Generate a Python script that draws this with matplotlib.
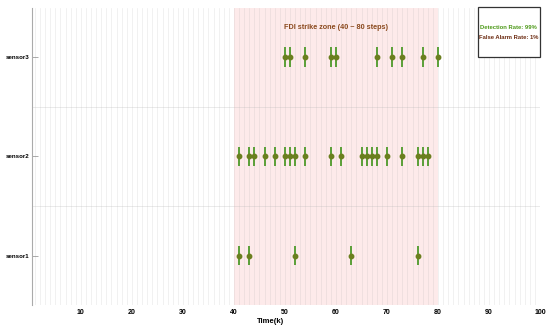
import numpy as np
import matplotlib.pyplot as plt

sensor_names = ['sensor1', 'sensor2', 'sensor3']
sensor1_hits = [41, 43, 52, 63, 76]
sensor2_hits = [41, 43, 44, 46, 48, 50, 51, 52, 54, 59, 61, 65, 66, 67, 68, 70, 73, 76, 77, 78]
sensor3_hits = [50, 51, 54, 59, 60, 68, 71, 73, 77, 80]
zone_start, zone_end = 40, 80
x_ticks = [10, 20, 30, 40, 50, 60, 70, 80, 90, 100]

plt.rcParams['font.family'] = ['Liberation Sans', 'DejaVu Sans']

fig = plt.figure(figsize=(5.5, 3.28), dpi=100)
ax = fig.add_axes([0.058, 0.070, 0.924, 0.906])

# strike zone background
ax.axvspan(zone_start, zone_end, color='#fdeaea', zorder=0, lw=0)

# fine vertical grid every step
for xv in range(1, 101):
    ax.axvline(xv, color='#b0b0b0', alpha=0.25, lw=0.5, zorder=0.5)
for yv in [1.5, 2.5]:
    ax.axhline(yv, color='#b0b0b0', alpha=0.3, lw=0.6, zorder=0.5)

for i, hits in enumerate([sensor1_hits, sensor2_hits, sensor3_hits]):
    y = np.full(len(hits), i + 1)
    ax.errorbar(hits, y, yerr=0.1, fmt='o', ms=3.2, color='#6b7f1f',
                ecolor='#4e9a2a', elinewidth=1.3, capsize=0, zorder=3)

ax.text(60, 3.30, 'FDI strike zone (40 ~ 80 steps)', ha='center', va='center',
        fontsize=5.2, fontweight='bold', color='#8b4a1e')

ax.text(0.9385, 0.933, 'Detection Rate: 99%', transform=ax.transAxes, ha='center',
        va='center', fontsize=4.2, fontweight='bold', color='#4e9a1a', zorder=6)
ax.text(0.9385, 0.900, 'False Alarm Rate: 1%', transform=ax.transAxes, ha='center',
        va='center', fontsize=4.2, fontweight='bold', color='#6b2a10', zorder=6)
box = plt.Rectangle((0.8775, 0.836), 0.1225, 0.168, transform=ax.transAxes,
                    facecolor='white', edgecolor='#333333', lw=0.9, zorder=5,
                    clip_on=False)
ax.add_patch(box)

ax.set_xlim(0.4, 100)
ax.set_ylim(0.5, 3.5)
ax.set_yticks([1, 2, 3])
ax.set_yticklabels(sensor_names, fontsize=4.4, fontweight='bold')
ax.set_xticks(x_ticks)
ax.set_xticklabels([str(t) for t in x_ticks], fontsize=5, fontweight='bold')
ax.tick_params(axis='y', direction='in', length=4, width=0.5, color='#888888', pad=1.5)
ax.tick_params(axis='x', length=0, pad=3)
ax.set_xlabel('Time(k)', fontsize=5.5, fontweight='bold', labelpad=1)
ax.xaxis.set_label_coords(0.47, -0.045)

for side in ['top', 'right', 'bottom']:
    ax.spines[side].set_visible(False)
ax.spines['left'].set_color('#aaaaaa')
ax.spines['left'].set_linewidth(0.8)

fig.savefig('out.png', dpi=100)
